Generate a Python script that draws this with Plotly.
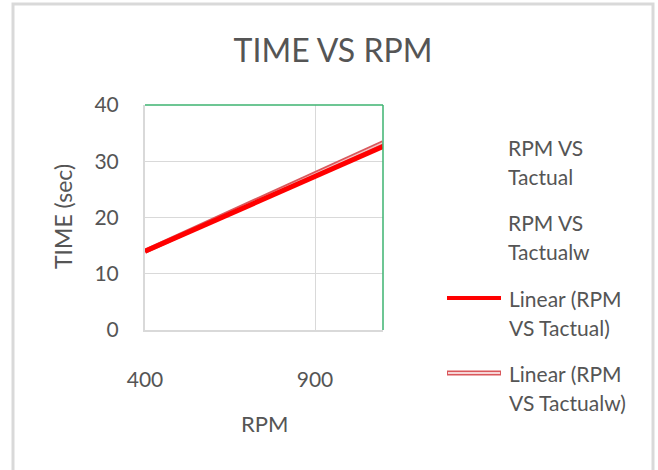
import plotly.graph_objects as go

# ---- data ----
rpm_range = [400, 1100]
trend_x = [400, 1100]
trend_tactual = [14.0, 32.6]
trend_tactualw = [14.0, 33.3]
x_ticks = [400, 900]
y_ticks = [0, 10, 20, 30, 40]
legend_names = ["RPM VS<br>Tactual", "RPM VS<br>Tactualw",
                "Linear (RPM<br>VS Tactual)", "Linear (RPM<br>VS Tactualw)"]

FONT = "Lato"
TXT = "#555555"
GRID = "#d9d9d9"
GREEN = "#3cb371"
RED = "#ff0000"
PINK_OUT = "#d9585c"
PINK_IN = "#f2c4c4"

# plot-area pixel geometry (for converting layout positions)
L, R, T, B = 145, 383, 105, 330
def px(x):
    return (x - L) / (R - L)
def py(y):
    return (B - y) / (B - T)

fig = go.Figure()

# scatter series (no visible markers in the reference)
fig.add_trace(go.Scatter(x=trend_x, y=trend_tactual, mode="markers",
                         marker=dict(color="rgba(0,0,0,0)"), showlegend=False,
                         name="RPM VS Tactual", hoverinfo="skip"))
fig.add_trace(go.Scatter(x=trend_x, y=trend_tactualw, mode="markers",
                         marker=dict(color="rgba(0,0,0,0)"), showlegend=False,
                         name="RPM VS Tactualw", hoverinfo="skip"))
# linear trendlines (double-line Tactualw drawn first, solid red on top)
fig.add_trace(go.Scatter(x=trend_x, y=trend_tactualw, mode="lines",
                         line=dict(color=PINK_OUT, width=5), showlegend=False,
                         name="Linear (RPM VS Tactualw)"))
fig.add_trace(go.Scatter(x=trend_x, y=trend_tactualw, mode="lines",
                         line=dict(color=PINK_IN, width=1.5), showlegend=False,
                         hoverinfo="skip"))
fig.add_trace(go.Scatter(x=trend_x, y=trend_tactual, mode="lines",
                         line=dict(color=RED, width=5), showlegend=False,
                         name="Linear (RPM VS Tactual)"))

shapes = [
    # outer chart frame
    dict(type="rect", xref="paper", yref="paper",
         x0=px(13), x1=px(653), y0=py(480), y1=py(4),
         line=dict(color="#d9d9d9", width=3), layer="below"),
    # green top and right border of plot area
    dict(type="line", xref="paper", yref="paper", x0=0, x1=1, y0=1, y1=1,
         line=dict(color=GREEN, width=1.5)),
    dict(type="line", xref="paper", yref="paper", x0=1, x1=1, y0=0, y1=1,
         line=dict(color=GREEN, width=1.5)),
    # legend symbols
    dict(type="line", xref="paper", yref="paper",
         x0=px(447), x1=px(501), y0=py(298), y1=py(298),
         line=dict(color=RED, width=4)),
    dict(type="line", xref="paper", yref="paper",
         x0=px(447), x1=px(501), y0=py(373), y1=py(373),
         line=dict(color=PINK_OUT, width=5)),
    dict(type="line", xref="paper", yref="paper",
         x0=px(448), x1=px(500), y0=py(373), y1=py(373),
         line=dict(color="#ffffff", width=1.5)),
]

annotations = []
legend_pos = [(506, 147), (506, 222), (507, 298), (507, 373)]
for name, (lx, ly) in zip(legend_names, legend_pos):
    for i, line in enumerate(name.split("<br>")):
        annotations.append(dict(text=line, xref="paper", yref="paper",
                                x=px(lx), y=py(ly + 29 * i), xanchor="left",
                                yanchor="middle", showarrow=False,
                                font=dict(family=FONT, size=21, color=TXT)))
# axis titles
annotations.append(dict(text="RPM", xref="paper", yref="paper", x=px(264), y=py(423),
                        xanchor="center", yanchor="middle", showarrow=False,
                        font=dict(family=FONT, size=22, color=TXT)))
annotations.append(dict(text="TIME (sec)", xref="paper", yref="paper", x=px(63), y=py(217),
                        xanchor="center", yanchor="middle", showarrow=False, textangle=-90,
                        font=dict(family=FONT, size=23, color=TXT)))

fig.update_layout(
    width=658, height=470,
    margin=dict(l=L, r=658 - R, t=T, b=470 - B),
    paper_bgcolor="white", plot_bgcolor="white",
    title=dict(text="TIME VS RPM", x=333 / 658, xref="container", xanchor="center",
               y=1 - 51 / 470, yref="container", yanchor="middle",
               font=dict(family=FONT, size=32, color=TXT)),
    shapes=shapes, annotations=annotations, showlegend=False,
)
fig.update_xaxes(range=rpm_range, tickvals=x_ticks, ticktext=[str(v) for v in x_ticks],
                 showgrid=True, gridcolor=GRID, gridwidth=1,
                 showline=True, linecolor=GRID, linewidth=2, zeroline=False,
                 ticks="outside", ticklen=30, tickcolor="rgba(0,0,0,0)",
                 tickfont=dict(family=FONT, size=21, color=TXT))
fig.update_yaxes(range=[0, 40], tickvals=y_ticks,
                 showgrid=True, gridcolor=GRID, gridwidth=1,
                 showline=True, linecolor=GRID, linewidth=2, zeroline=False,
                 ticks="outside", ticklen=20, tickcolor="rgba(0,0,0,0)",
                 tickfont=dict(family=FONT, size=21, color=TXT))

fig.write_html("out.html")
